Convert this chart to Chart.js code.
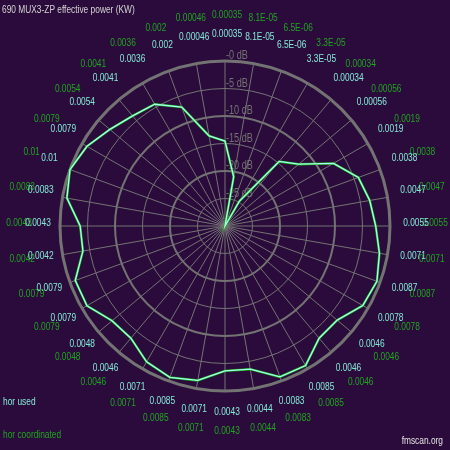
<!DOCTYPE html>
<html>
<head>
<meta charset="utf-8">
<script src="https://cdn.jsdelivr.net/npm/chart.js@4.4.1/dist/chart.umd.min.js"></script>
<style>
html, body { margin: 0; padding: 0; background: #2b0b3b; }
canvas { display: block; }
</style>
</head>
<body>
<canvas id="chart" width="450" height="450"></canvas>
<script>
// azimuths in degrees, clockwise from north
var angles = [0, 10, 20, 30, 40, 50, 60, 70, 80, 90, 100, 110, 120, 130, 140, 150, 160, 170,
    180, 190, 200, 210, 220, 230, 240, 250, 260, 270, 280, 290, 300, 310, 320, 330, 340, 350];

// effective power in KW per azimuth
var horUsed = [0.00035, 8.1e-5, 6.5e-6, 3.3e-5, 0.00034, 0.00056, 0.0019, 0.0038, 0.0047, 0.0055,
    0.0071, 0.0087, 0.0078, 0.0046, 0.0046, 0.0085, 0.0083, 0.0044, 0.0043, 0.0071,
    0.0085, 0.0071, 0.0046, 0.0048, 0.0079, 0.0079, 0.0042, 0.0043, 0.0083, 0.01,
    0.0079, 0.0054, 0.0041, 0.0036, 0.002, 0.00046];
var horCoordinated = [0.00035, 8.1e-5, 6.5e-6, 3.3e-5, 0.00034, 0.00056, 0.0019, 0.0038, 0.0047, 0.0055,
    0.0071, 0.0087, 0.0078, 0.0046, 0.0046, 0.0085, 0.0083, 0.0044, 0.0043, 0.0071,
    0.0085, 0.0071, 0.0046, 0.0048, 0.0079, 0.0079, 0.0042, 0.0043, 0.0083, 0.01,
    0.0079, 0.0054, 0.0041, 0.0036, 0.002, 0.00046];
// the text labels as printed round the circle
var usedLabels = ["0.00035", "8.1E-05", "6.5E-06", "3.3E-05", "0.00034", "0.00056", "0.0019", "0.0038", "0.0047", "0.0055",
    "0.0071", "0.0087", "0.0078", "0.0046", "0.0046", "0.0085", "0.0083", "0.0044", "0.0043", "0.0071",
    "0.0085", "0.0071", "0.0046", "0.0048", "0.0079", "0.0079", "0.0042", "0.0043", "0.0083", "0.01",
    "0.0079", "0.0054", "0.0041", "0.0036", "0.002", "0.00046"];
var coordLabels = usedLabels.slice();

var dbTicks = [0, -5, -10, -15, -20, -25];

var BG = "#2b0b3b";
var GRID = "#737373";
var CYAN = "#84e8d6";
var GREEN = "#20a420";
var FONT = '"Liberation Sans", Arial, sans-serif';
var SQUEEZE = 0.76; //the original uses a narrow bitmap font

//relative power in dB, floored at the centre of the plot
var maxKw = Math.max.apply(null, horUsed);
function toDb(kw) {
    return Math.max(10 * Math.log10(kw / maxKw), -30);
}

function text(ctx, str, x, y, align) {
    ctx.save();
    ctx.translate(x, y);
    ctx.scale(SQUEEZE, 1);
    ctx.textAlign = align || "left";
    ctx.fillText(str, 0, 0);
    ctx.restore();
}

var decorations = {
    id: "decorations",
    beforeDraw: function(chart) {
        var ctx = chart.ctx;
        ctx.save();
        ctx.fillStyle = BG;
        ctx.fillRect(0, 0, chart.width, chart.height);
        ctx.restore();
    },
    beforeDatasetsDraw: function(chart) {
        var ctx = chart.ctx, r = chart.scales.r;
        ctx.save();
        //centre dot
        ctx.fillStyle = GRID;
        ctx.beginPath();
        ctx.arc(r.xCenter, r.yCenter, 3.5, 0, Math.PI * 2);
        ctx.fill();
        //dB marks on the north axis
        ctx.font = "12px " + FONT;
        ctx.textBaseline = "bottom";
        dbTicks.forEach(function(v) {
            var d = r.getDistanceFromCenterForValue(v);
            text(ctx, "-" + Math.abs(v) + " dB", r.xCenter + 1, r.yCenter - d + 1);
        });
        ctx.restore();
    },
    afterDraw: function(chart) {
        var ctx = chart.ctx, r = chart.scales.r;
        ctx.save();
        ctx.font = "11px " + FONT;
        ctx.textBaseline = "alphabetic";
        angles.forEach(function(a, i) {
            var p = r.getPointPosition(i, 208);
            ctx.fillStyle = GREEN;
            text(ctx, coordLabels[i], p.x + 2, p.y, "center");
            p = r.getPointPosition(i, 189);
            ctx.fillStyle = CYAN;
            text(ctx, usedLabels[i], p.x + 2, p.y, "center");
        });

        ctx.fillStyle = "#d4d4d4";
        text(ctx, "690 MUX3-ZP effective power (KW)", 2, 13);
        ctx.fillStyle = CYAN;
        text(ctx, "hor used", 3, 405);
        ctx.fillStyle = GREEN;
        text(ctx, "hor coordinated", 3, 438);
        ctx.fillStyle = "#e0e0e0";
        text(ctx, "fmscan.org", 443, 444, "right");
        ctx.restore();
    }
};

var chart = new Chart(document.getElementById("chart").getContext("2d"), {
    type: "radar",
    data: {
        labels: angles.map(String),
        datasets: [{
            label: "hor used",
            data: horUsed.map(toDb),
            borderColor: "#a8fff0",
            borderWidth: 1.3,
            fill: false,
            pointRadius: 0,
            tension: 0
        }, {
            label: "hor coordinated",
            data: horCoordinated.map(toDb),
            borderColor: "#14b014",
            borderWidth: 2.4,
            fill: false,
            pointRadius: 0,
            tension: 0
        }]
    },
    options: {
        responsive: false,
        animation: false,
        layout: { padding: { left: 60, top: 61, right: 60, bottom: 59 } },
        plugins: {
            legend: { display: false },
            tooltip: { enabled: false }
        },
        scales: {
            r: {
                min: -30,
                max: 0,
                ticks: { display: false, stepSize: 5 },
                pointLabels: { display: false },
                angleLines: { display: true, color: GRID, lineWidth: 1 },
                grid: {
                    circular: true,
                    color: GRID,
                    lineWidth: function(c) {
                        if (!c.tick) return 1;
                        if (c.tick.value === 0) return 3;
                        return c.tick.value % 10 === 0 ? 2 : 1;
                    }
                }
            }
        }
    },
    plugins: [decorations]
});
</script>
</body>
</html>
